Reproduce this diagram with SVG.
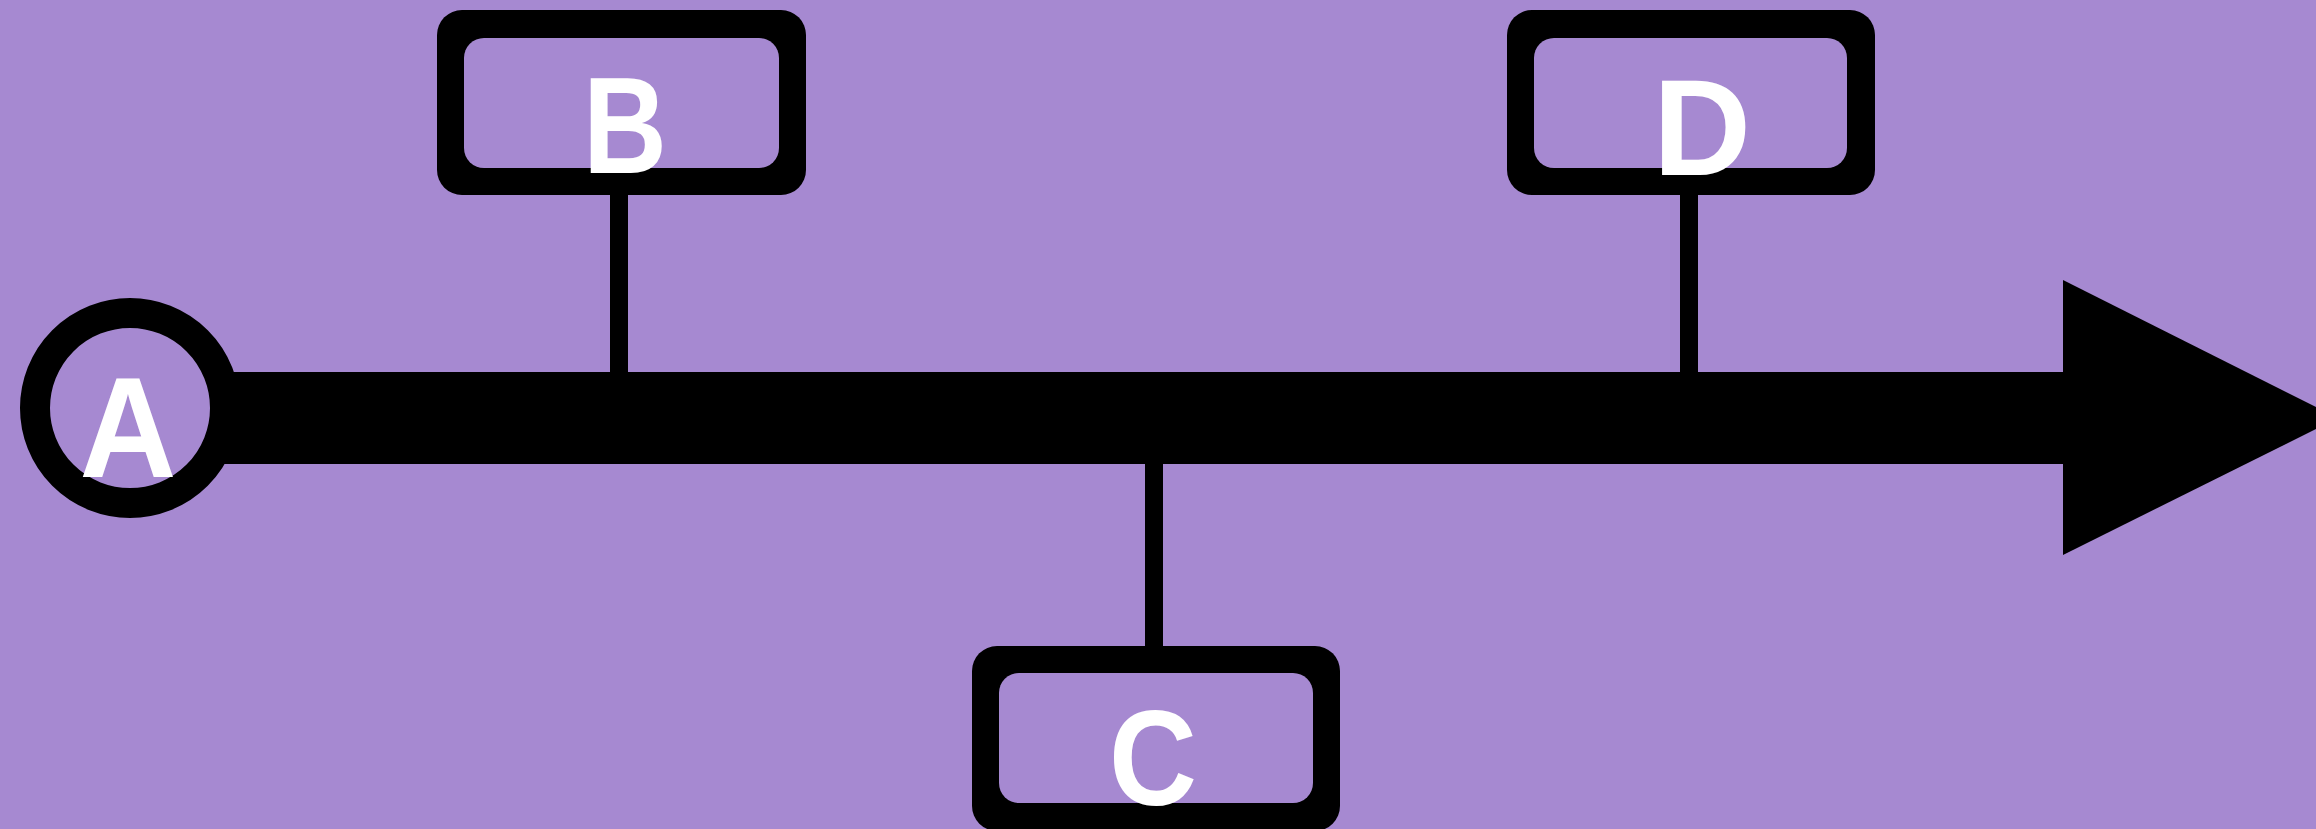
<svg xmlns="http://www.w3.org/2000/svg" width="2316" height="829" viewBox="0 0 2316 829">
<style>
.bg{fill:#a689d1}
.frame{fill:#000}
.hole{fill:#a689d1}
.stem{fill:#000}
.lbl{font-family:"Liberation Sans",Arial,sans-serif;font-weight:bold;font-size:137px;fill:#fff;text-anchor:middle}
</style>
<rect class="bg" x="0" y="0" width="2316" height="829"/>
<g id="connectors">
<rect id="timeline-bar" x="200" y="372" width="1866" height="92" fill="#000"/>
<polygon id="timeline-head" points="2063,280 2338,418 2063,555" fill="#000"/>
<rect class="stem" x="610" y="190" width="18" height="186"/>
<rect class="stem" x="1680" y="190" width="18" height="186"/>
<rect class="stem" x="1145" y="460" width="18" height="190"/>
</g>
<g id="node-A">
<circle cx="130" cy="408" r="95" fill="#a689d1" stroke="#000" stroke-width="30"/>
<text class="lbl" x="128" y="477" style="font-size:142px" textLength="97" lengthAdjust="spacingAndGlyphs">A</text>
</g>
<g id="node-B">
<rect class="frame" x="437" y="10" width="369" height="185" rx="25"/>
<rect class="hole" x="464" y="38" width="315" height="130" rx="20"/>
<text class="lbl" x="625" y="173" textLength="84" lengthAdjust="spacingAndGlyphs">B</text>
</g>
<g id="node-C">
<rect class="frame" x="972" y="646" width="368" height="185" rx="25"/>
<rect class="hole" x="999" y="673" width="314" height="130" rx="20"/>
<text class="lbl" x="1153" y="805" style="font-size:135px" textLength="88" lengthAdjust="spacingAndGlyphs">C</text>
</g>
<g id="node-D">
<rect class="frame" x="1507" y="10" width="368" height="185" rx="25"/>
<rect class="hole" x="1534" y="38" width="313" height="130" rx="20"/>
<text class="lbl" x="1702" y="175" textLength="98" lengthAdjust="spacingAndGlyphs">D</text>
</g>
</svg>
